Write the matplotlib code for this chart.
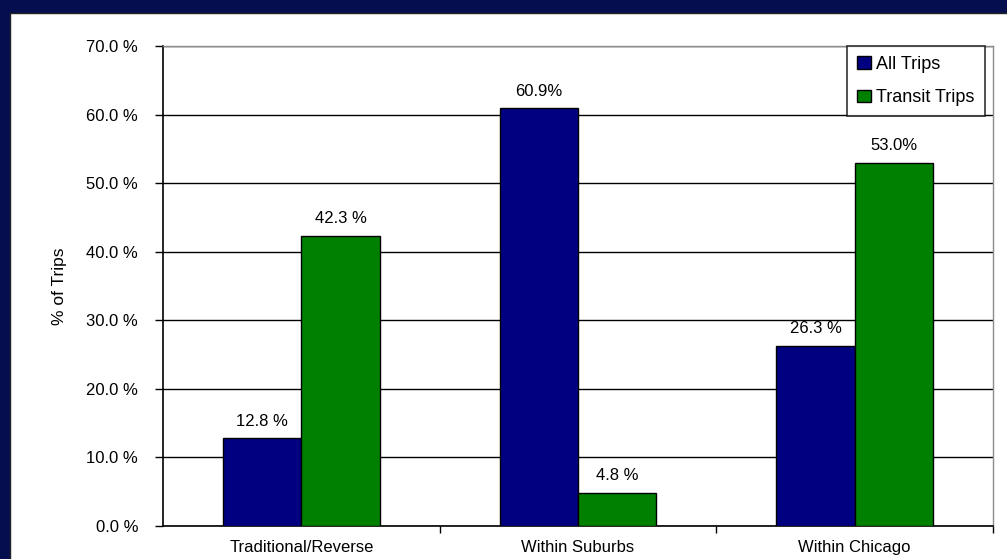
import numpy as np
import matplotlib.pyplot as plt
from matplotlib.patches import Rectangle

categories = ['Traditional/Reverse', 'Within Suburbs', 'Within Chicago']
all_trips = [12.8, 60.9, 26.3]
transit_trips = [42.3, 4.8, 53.0]
all_labels = ['12.8 %', '60.9%', '26.3 %']
transit_labels = ['42.3 %', '4.8 %', '53.0%']
yticks = [0, 10, 20, 30, 40, 50, 60, 70]

plt.rcParams['font.family'] = ['Liberation Sans', 'DejaVu Sans']

fig = plt.figure(figsize=(10.07, 5.59), dpi=100)
fig.patch.set_facecolor('#050f4f')
# white panel inside the navy frame
fig.patches.append(Rectangle((10 / 1007, -0.05), 1.0, 1 - 13 / 559 + 0.05,
                             transform=fig.transFigure, facecolor='white',
                             edgecolor='#222222', linewidth=1, zorder=-5))

ax = fig.add_axes([163 / 1007, 1 - 526 / 559, 830 / 1007, 480 / 559])
ax.set_facecolor('white')

x = np.arange(len(categories))
w = 0.283
b1 = ax.bar(x - w / 2, all_trips, w, color='#000080', edgecolor='black',
            linewidth=1, label='All Trips', zorder=3)
b2 = ax.bar(x + w / 2, transit_trips, w, color='#008000', edgecolor='black',
            linewidth=1, label='Transit Trips', zorder=3)

for bar, lab in zip(b1, all_labels):
    ax.text(bar.get_x() + bar.get_width() / 2, bar.get_height() + 1.4, lab,
            ha='center', va='bottom', fontsize=12)
for bar, lab in zip(b2, transit_labels):
    ax.text(bar.get_x() + bar.get_width() / 2, bar.get_height() + 1.4, lab,
            ha='center', va='bottom', fontsize=12)

ax.set_xlim(-0.5, 2.5)
ax.set_ylim(0, 70)
ax.set_yticks(yticks)
ax.set_yticklabels(['%.1f %%' % v for v in yticks], fontsize=12)
ax.yaxis.grid(True, color='black', linewidth=1, zorder=0)
ax.set_axisbelow(True)

ax.set_xticks(x)
ax.set_xticklabels(categories, fontsize=12)
ax.set_xticks([0.5, 1.5, 2.5], minor=True)
ax.tick_params(axis='x', which='major', length=0, pad=10)
ax.tick_params(axis='x', which='minor', length=5, width=1, direction='out')
ax.tick_params(axis='y', length=6, width=1, direction='out', pad=12)

ax.set_ylabel('% of Trips', fontsize=12.5, labelpad=14)

for s in ['left', 'bottom']:
    ax.spines[s].set_color('black')
    ax.spines[s].set_linewidth(1.2)
for s in ['right', 'top']:
    ax.spines[s].set_color('#8c8c8c')
    ax.spines[s].set_linewidth(1)

leg = ax.legend(loc='upper right', bbox_to_anchor=(0.99, 1.0), fontsize=13,
                frameon=True, fancybox=False, edgecolor='black',
                handlelength=0.8, handleheight=0.7, handletextpad=0.3,
                borderpad=0.55, labelspacing=0.9, borderaxespad=0)
leg.get_frame().set_linewidth(1.2)

fig.savefig('out.png', dpi=100, facecolor=fig.get_facecolor())
